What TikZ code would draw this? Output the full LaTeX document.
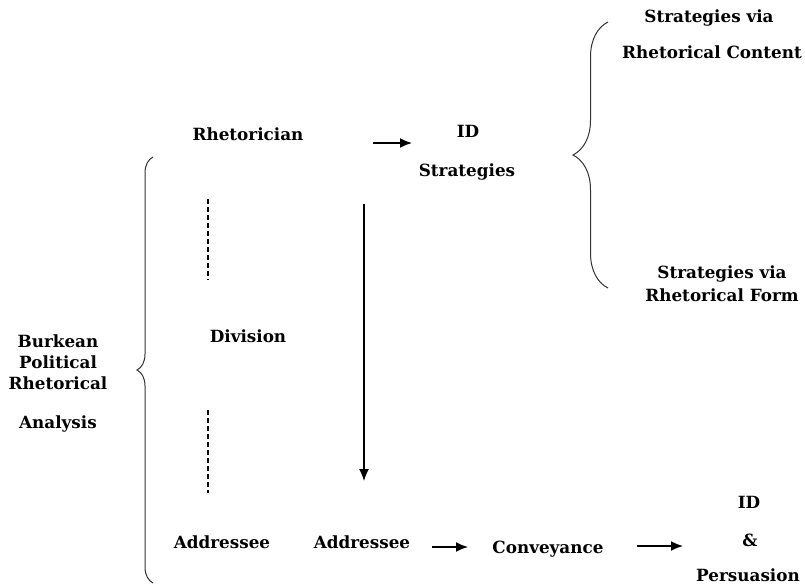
\documentclass[tikz,border=0pt]{standalone}
\usepackage{fontspec}
\setmainfont{DejaVu Serif}
\usetikzlibrary{%
  arrows.meta,%
  calc,%
  decorations.pathreplacing%
}
\tikzset{%
  lbl/.style={font=\bfseries\fontsize{16.8}{19}\selectfont,inner sep=0pt,
    text height=12pt,text depth=0pt},%
  curly/.style={decorate,decoration={brace,amplitude=#1},line width=1pt,
    black!80},%
  dashln/.style={dash pattern=on 5pt off 3pt,line width=1.4pt},%
  conn/.style={-{Latex[length=12pt,width=10pt]},line width=1.6pt}}

\begin{document}
\begin{tikzpicture}[x=1pt,y=-1pt]
      \useasboundingbox (0,0) rectangle (805,585);
      % upper row
      \node[lbl] (rhet) at (248,135) {Rhetorician};
      \node[lbl] (idtop) at (468,132) {ID};
      \node[lbl] (strat) at (467,171) {Strategies};
      \node[lbl] (viac) at (709,17) {Strategies via};
      \node[lbl] (rcont) at (712,53) {Rhetorical Content};
      \node[lbl] (viaf) at (722,272) {Strategies via};
      \node[lbl] (rform) at (722,295) {Rhetorical Form};
      % left label
      \node[lbl] (burk) at (58,341) {Burkean};
      \node[lbl] (polit) at (58,362) {Political};
      \node[lbl] (rhetl) at (58,383) {Rhetorical};
      \node[lbl] (anal) at (58,422) {Analysis};
      \node[lbl] (divis) at (248,336) {Division};
      % lower row
      \node[lbl] (addra) at (222,542) {Addressee};
      \node[lbl] (addrb) at (362,542) {Addressee};
      \node[lbl] (conv) at (548,547) {Conveyance};
      \node[lbl] (idbot) at (749,502) {ID};
      \node[lbl] (amp) at (750,540) {\&};
      \node[lbl] (pers) at (748,575) {Persuasion};
      % braces
      \draw[curly=35] (608,288) -- (608,22);
      \draw[curly=16] (153,583) -- (153,157);
      % dashed lines
      \draw[dashln] (208,199) -- (208,280);
      \draw[dashln] (208,410) -- (208,493);
      % arrows
      \coordinate (ra) at (373,143);
      \coordinate (rb) at (412,143);
      \coordinate (va) at (364,204);
      \coordinate (vb) at (364,481);
      \coordinate (ca) at (432,547);
      \coordinate (cb) at (468,547);
      \coordinate (pa) at (637,546);
      \coordinate (pb) at (683,546);
      \draw[conn] (ra) -- (rb);
      \draw[conn,line width=1.3pt] (va) -- (vb);
      \draw[conn] (ca) -- (cb);
      \draw[conn] (pa) -- (pb);
\end{tikzpicture}
\end{document}
